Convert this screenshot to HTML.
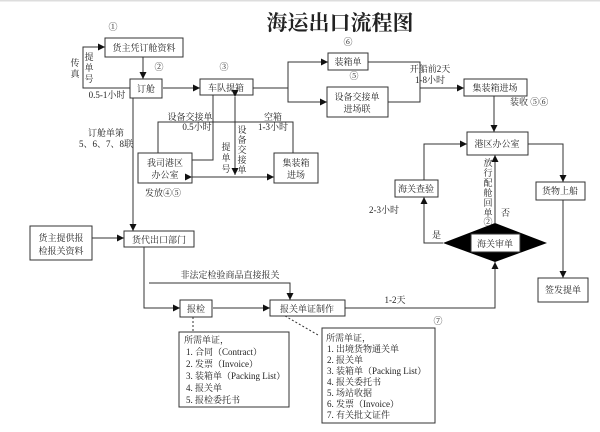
<!DOCTYPE html>
<html><head><meta charset="utf-8"><style>
body{margin:0;background:#fff;}
svg text{font-family:"Liberation Serif","Noto Serif CJK SC","Noto Sans CJK SC",serif;font-size:9px;fill:#222;}
</style></head><body>
<svg width="600" height="427" viewBox="0 0 600 427" xmlns="http://www.w3.org/2000/svg">
<defs><marker id="a" markerWidth="8" markerHeight="8" refX="7" refY="4" orient="auto" markerUnits="userSpaceOnUse"><path d="M0,0.5 L7,4 L0,7.5z" fill="#111"/></marker></defs>
<rect x="0" y="0" width="600" height="1.5" fill="#ddd"/>
<text x="340" y="30" text-anchor="middle" style="font-size:21px;font-weight:bold">海运出口流程图</text>
<g stroke="#333" stroke-width="1" fill="none">
<rect x="105" y="38" width="78" height="19"/>
<rect x="130" y="79" width="32" height="19"/>
<rect x="200" y="79" width="53" height="16"/>
<rect x="328" y="53" width="40" height="17"/>
<rect x="327" y="87" width="61" height="30"/>
<rect x="464" y="79" width="63" height="17"/>
<rect x="467" y="132" width="61" height="23"/>
<rect x="536" y="182" width="49" height="18"/>
<rect x="538" y="278" width="50" height="24"/>
<rect x="395" y="180" width="43" height="17"/>
<rect x="138" y="153" width="54" height="30"/>
<rect x="274" y="153" width="44" height="30"/>
<rect x="30" y="226" width="62" height="34"/>
<rect x="124" y="231" width="70" height="16"/>
<rect x="180" y="300" width="32" height="17"/>
<rect x="270" y="300" width="75" height="16"/>
<rect x="179" y="332" width="110" height="75"/>
<rect x="322" y="328" width="113" height="95"/>
<path d="M143,57 V79" marker-end="url(#a)"/>
<path d="M130,88 H83 V47 H105" marker-end="url(#a)"/>
<path d="M163,88 H200" marker-end="url(#a)"/>
<path d="M253,88 H288 V62 H328" marker-end="url(#a)"/>
<path d="M288,88 V102 H327" marker-end="url(#a)"/>
<path d="M368,62 H420 V102 H388"/>
<path d="M420,88 H464" marker-end="url(#a)"/>
<path d="M494,96 V132" marker-end="url(#a)"/>
<path d="M528,144 H563 V182" marker-end="url(#a)"/>
<path d="M563,200 V278" marker-end="url(#a)"/>
<path d="M424,180 V144 H467" marker-end="url(#a)"/>
<path d="M443,243 H424 V197" marker-end="url(#a)"/>
<path d="M495,223 V155" marker-end="url(#a)"/>
<path d="M345,308 H495 V262" marker-end="url(#a)"/>
<path d="M213,95 V160 H192"/>
<path d="M158,153 V122 H293 V153"/>
<path d="M192,177 H274" marker-start="url(#a)" marker-end="url(#a)"/>
<path d="M235,97 V175" marker-start="url(#a)" marker-end="url(#a)"/>
<path d="M133,98 V231" marker-end="url(#a)"/>
<path d="M92,238 H124" marker-end="url(#a)"/>
<path d="M144,247 V308 H180" marker-end="url(#a)"/>
<path d="M149,283 H290 V300" marker-end="url(#a)"/>
<path d="M213,308 H270" marker-end="url(#a)"/>
<path d="M193,317 V332" stroke-dasharray="2,2"/>
<path d="M285,316 L318,335" stroke-dasharray="2,2"/>
</g>
<path d="M443,243 L495,223 L547,243 L495,262z" fill="#000"/>
<rect x="471" y="234" width="49" height="18" fill="#fff" stroke="#333"/>
<text x="495" y="247" text-anchor="middle">海关审单</text>
<text x="113" y="30" text-anchor="middle">①</text>
<text x="144" y="51" text-anchor="middle">货主凭订舱资料</text>
<text x="159" y="70" text-anchor="middle">②</text>
<text x="146" y="92" text-anchor="middle">订舱</text>
<text x="224" y="70" text-anchor="middle">③</text>
<text x="226" y="91" text-anchor="middle">车队提箱</text>
<text x="348" y="45" text-anchor="middle">⑥</text>
<text x="348" y="65" text-anchor="middle">装箱单</text>
<text x="354" y="79" text-anchor="middle">⑤</text>
<text x="357" y="100" text-anchor="middle">设备交接单</text>
<text x="357" y="112" text-anchor="middle">进场联</text>
<text x="430" y="72" text-anchor="middle">开船前2天</text>
<text x="430" y="83" text-anchor="middle">1-8小时</text>
<text x="495" y="91" text-anchor="middle">集装箱进场</text>
<text x="510" y="105">装收 ⑤⑥</text>
<text x="497" y="147" text-anchor="middle">港区办公室</text>
<text x="560" y="194" text-anchor="middle">货物上船</text>
<text x="563" y="293" text-anchor="middle">签发提单</text>
<text x="416" y="192" text-anchor="middle">海关查验</text>
<text x="384" y="213" text-anchor="middle">2-3小时</text>
<text x="432" y="238">是</text>
<text x="501" y="216">否</text>
<text x="488" y="166" text-anchor="middle">放</text><text x="488" y="176" text-anchor="middle">行</text><text x="488" y="186" text-anchor="middle">配</text><text x="488" y="196" text-anchor="middle">舱</text><text x="488" y="206" text-anchor="middle">回</text><text x="488" y="216" text-anchor="middle">单</text><text x="488" y="225" text-anchor="middle">②</text>
<text x="75" y="66" text-anchor="middle">传</text><text x="75" y="77" text-anchor="middle">真</text>
<text x="89" y="60" text-anchor="middle">提</text><text x="89" y="71" text-anchor="middle">单</text><text x="89" y="82" text-anchor="middle">号</text>
<text x="107" y="98" text-anchor="middle">0.5-1小时</text>
<text x="106" y="136" text-anchor="middle">订舱单第</text>
<text x="106" y="147" text-anchor="middle">5、6、7、8联</text>
<text x="190" y="120" text-anchor="middle">设备交接单</text>
<text x="197" y="130" text-anchor="middle">0.5小时</text>
<text x="273" y="120" text-anchor="middle">空箱</text>
<text x="273" y="130" text-anchor="middle">1-3小时</text>
<text x="226" y="150" text-anchor="middle">提</text><text x="226" y="161" text-anchor="middle">单</text><text x="226" y="172" text-anchor="middle">号</text>
<text x="242" y="133" text-anchor="middle">设</text><text x="242" y="143" text-anchor="middle">备</text><text x="242" y="153" text-anchor="middle">交</text><text x="242" y="163" text-anchor="middle">接</text><text x="242" y="173" text-anchor="middle">单</text>
<text x="165" y="166" text-anchor="middle">我司港区</text>
<text x="165" y="178" text-anchor="middle">办公室</text>
<text x="296" y="166" text-anchor="middle">集装箱</text>
<text x="296" y="178" text-anchor="middle">进场</text>
<text x="163" y="196" text-anchor="middle">发放④⑤</text>
<text x="61" y="241" text-anchor="middle">货主提供报</text>
<text x="61" y="254" text-anchor="middle">检报关资料</text>
<text x="159" y="243" text-anchor="middle">货代出口部门</text>
<text x="230" y="278" text-anchor="middle">非法定检验商品直接报关</text>
<text x="196" y="312" text-anchor="middle">报检</text>
<text x="307" y="312" text-anchor="middle">报关单证制作</text>
<text x="395" y="303" text-anchor="middle">1-2天</text>
<text x="438" y="324" text-anchor="middle" fill="#888">⑦</text>
<g style="font-size:8.5px">
<text x="184" y="343">所需单证，</text>
<text x="186" y="355">1. 合同（Contract）</text>
<text x="186" y="367">2. 发票（Invoice）</text>
<text x="186" y="379">3. 装箱单（Packing List）</text>
<text x="186" y="391">4. 报关单</text>
<text x="186" y="403">5. 报检委托书</text>
<text x="326" y="341">所需单证，</text>
<text x="327" y="352">1. 出境货物通关单</text>
<text x="327" y="363">2. 报关单</text>
<text x="327" y="374">3. 装箱单（Packing List）</text>
<text x="327" y="385">4. 报关委托书</text>
<text x="327" y="396">5. 场站收据</text>
<text x="327" y="407">6. 发票（Invoice）</text>
<text x="327" y="418">7. 有关批文证件</text>
</g>
</svg>
</body></html>
